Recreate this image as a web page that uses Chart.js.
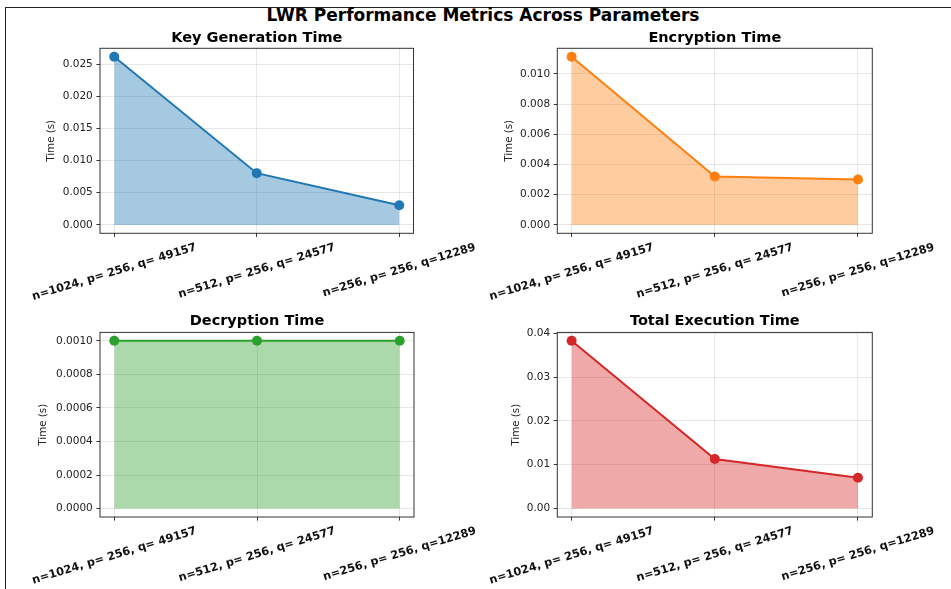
<!DOCTYPE html>
<html>
<head>
<meta charset="utf-8">
<script src="https://cdn.jsdelivr.net/npm/chart.js@4.4.0/dist/chart.umd.min.js"></script>
<style>
  body { margin: 0; background: #fff; overflow: hidden; width: 951px; height: 589px; position: relative; }
  #frame { position: absolute; left: 5px; top: 7px; width: 980px; height: 620px; border: 1px solid #222; box-sizing: border-box; }
  #suptitle { position: absolute; left: 0; top: 5px; width: 966px; text-align: center; font: bold 17px "DejaVu Sans", sans-serif; line-height: 20px; color: #000; }
  canvas { position: absolute; }
</style>
</head>
<body>
<div id="frame"></div>
<div id="suptitle">LWR Performance Metrics Across Parameters</div>
<canvas id="keyGen" width="490" height="310" style="left:0;top:0"></canvas>
<canvas id="encrypt" width="481" height="310" style="left:470px;top:0"></canvas>
<canvas id="decrypt" width="490" height="289" style="left:0;top:300px"></canvas>
<canvas id="total" width="481" height="289" style="left:470px;top:300px"></canvas>
<script>
// parametrlar va o'lchangan vaqtlar (sekund)
const params = ["n=1024, p= 256, q= 49157", "n=512, p= 256, q= 24577", "n=256, p= 256, q=12289"];

const keyGenTime = [0.02614, 0.00804, 0.00306];
const encryptTime = [0.01113, 0.0032, 0.0030];
const decryptTime = [0.0010, 0.0010, 0.0010];
const totalTime = [0.03826, 0.01129, 0.00702];

const keyGenTicks = [0, 0.005, 0.01, 0.015, 0.02, 0.025];
const encryptTicks = [0, 0.002, 0.004, 0.006, 0.008, 0.010];
const decryptTicks = [0, 0.0002, 0.0004, 0.0006, 0.0008, 0.0010];
const totalTicks = [0, 0.01, 0.02, 0.03, 0.04];

Chart.defaults.font.family = "'DejaVu Sans', sans-serif";
Chart.defaults.color = "#222";

// ramka va x o'qi yozuvlari (burilgan, markazda)
const frameAndLabels = {
  id: "frameAndLabels",
  afterDatasetsDraw(chart) {
    const { ctx, chartArea } = chart;
    ctx.save();
    ctx.strokeStyle = "#333";
    ctx.lineWidth = 1;
    ctx.strokeRect(chartArea.left, chartArea.top, chartArea.right - chartArea.left, chartArea.bottom - chartArea.top);
    ctx.restore();
  },
  afterDraw(chart) {
    const ctx = chart.ctx;
    const xScale = chart.scales.x;
    const angle = (17 * Math.PI) / 180;
    const size = 11.3;
    ctx.save();
    ctx.font = "bold " + size + "px 'DejaVu Sans'";
    ctx.fillStyle = "#111";
    ctx.textAlign = "center";
    ctx.textBaseline = "middle";
    params.forEach((label, i) => {
      const x = xScale.getPixelForValue(i);
      const w = ctx.measureText(label).width;
      const boxH = w * Math.sin(angle) + size * 1.16 * Math.cos(angle);
      const y = chart.chartArea.bottom + 7.5 + boxH / 2;
      ctx.save();
      ctx.translate(x, y);
      ctx.rotate(-angle);
      ctx.fillText(label, 0, 0);
      ctx.restore();
    });
    ctx.restore();
  },
};

function drawPanel(id, title, values, ticks, decimals, color, fill, box) {
  const top = Math.max(...values);
  const points = values.map((v, i) => ({ x: i, y: v }));
  return new Chart(document.getElementById(id), {
    type: "line",
    data: {
      datasets: [
        {
          data: points,
          borderColor: color,
          backgroundColor: fill,
          borderWidth: 2,
          pointRadius: 5,
          pointBackgroundColor: color,
          pointBorderWidth: 0,
          tension: 0,
          fill: "origin",
        },
      ],
    },
    options: {
      responsive: false,
      animation: false,
      devicePixelRatio: 1,
      layout: { padding: { left: 0, top: 0, right: box.right, bottom: box.bottom } },
      plugins: {
        legend: { display: false },
        tooltip: { enabled: false },
        title: {
          display: true,
          text: title,
          fullSize: false,
          color: "#000",
          font: { size: 14.5, weight: "bold", lineHeight: 1.2 },
          padding: { top: box.titleTop, bottom: box.titleBottom },
        },
      },
      scales: {
        x: {
          type: "linear",
          min: -0.1,
          max: params.length - 0.9,
          afterBuildTicks: (s) => { s.ticks = params.map((p, i) => ({ value: i })); },
          afterFit: (s) => { s.height = 4; },
          ticks: { display: false },
          border: { display: false },
          grid: { color: "rgba(176,176,176,0.3)", lineWidth: 1, tickColor: "#333", tickLength: 3.6, tickWidth: 1 },
        },
        y: {
          min: -0.05 * top,
          max: 1.05 * top,
          afterBuildTicks: (s) => { s.ticks = ticks.map((v) => ({ value: v })); },
          afterFit: (s) => { s.width = box.left; },
          border: { display: false },
          grid: { color: "rgba(176,176,176,0.3)", lineWidth: 1, tickColor: "#333", tickLength: 3.6, tickWidth: 1 },
          ticks: {
            padding: 3.6,
            color: "#222",
            font: { size: 10.5 },
            callback: (v) => Number(v).toFixed(decimals),
          },
          title: {
            display: true,
            text: "Time (s)",
            color: "#222",
            font: { size: 10.3, lineHeight: 1.2 },
            padding: { top: box.yTitle, bottom: 0 },
          },
        },
      },
    },
    plugins: [frameAndLabels],
  });
}

drawPanel("keyGen", "Key Generation Time", keyGenTime, keyGenTicks, 3, "#1f77b4", "rgba(31,119,180,0.4)",
  { left: 100, right: 76.5, bottom: 72.7, titleTop: 29.6, titleBottom: 1.3, yTitle: 45.5 });
drawPanel("encrypt", "Encryption Time", encryptTime, encryptTicks, 3, "#ff7f0e", "rgba(255,127,14,0.4)",
  { left: 87.3, right: 78.7, bottom: 72.7, titleTop: 29.6, titleBottom: 1.3, yTitle: 33.1 });
drawPanel("decrypt", "Decryption Time", decryptTime, decryptTicks, 4, "#2ca02c", "rgba(44,160,44,0.4)",
  { left: 100, right: 76, bottom: 68, titleTop: 13, titleBottom: 2, yTitle: 37.1 });
drawPanel("total", "Total Execution Time", totalTime, totalTicks, 2, "#d62728", "rgba(214,39,40,0.4)",
  { left: 87.3, right: 78.7, bottom: 68, titleTop: 13, titleBottom: 2, yTitle: 40.5 });
</script>
</body>
</html>
